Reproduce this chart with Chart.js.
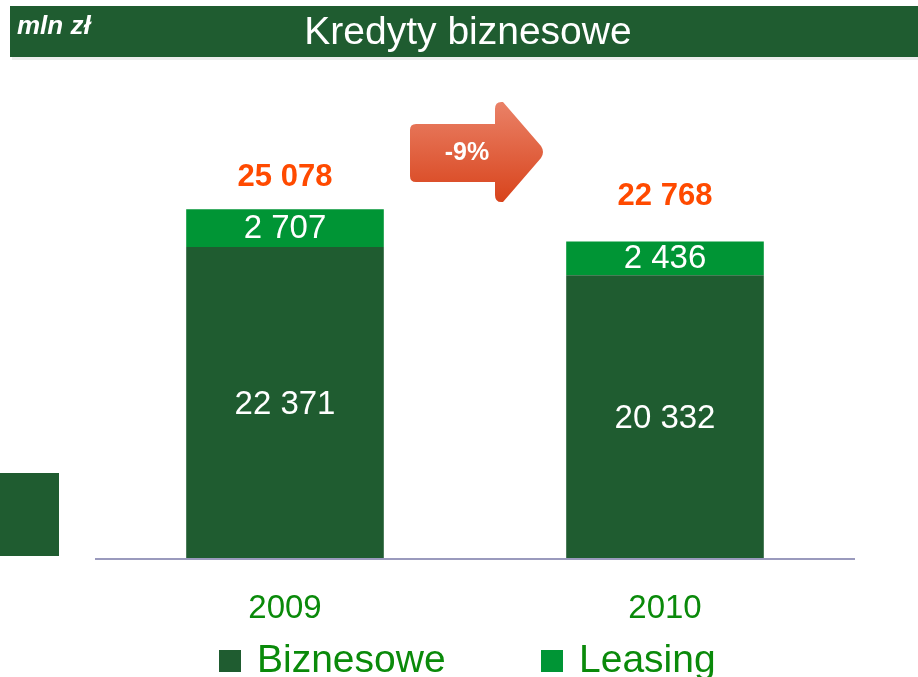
<!DOCTYPE html>
<html>
<head>
<meta charset="utf-8">
<script src="https://cdn.jsdelivr.net/npm/chart.js@4"></script>
<style>
  html,body{margin:0;padding:0;background:#fff;}
  #c{display:block;}
</style>
</head>
<body>
<canvas id="c" width="918" height="677"></canvas>
<script>
const categories = ['2009', '2010'];
const biznesowe = [22371, 20332];
const leasing = [2707, 2436];
const seriesNames = ['Biznesowe', 'Leasing'];
const titleText = 'Kredyty biznesowe';
const unitText = 'mln zł';

const DARK = '#1F5C30';
const LIGHT = '#009535';
const TXTGREEN = '#0A8A0A';
const ORANGE = '#FF4A00';
const FONT = '"Liberation Sans", Arial, sans-serif';

const totals = categories.map((_, i) => biznesowe[i] + leasing[i]);
const fmt = v => String(v).replace(/\B(?=(\d{3})+(?!\d))/g, ' ');
const changePct = Math.round((totals[1] / totals[0] - 1) * 100);

const decor = {
  id: 'decor',
  beforeDraw(chart) {
    const ctx = chart.ctx;
    ctx.save();
    ctx.fillStyle = '#fff';
    ctx.fillRect(0, 0, chart.width, chart.height);
    // title band with soft shadow
    ctx.fillStyle = 'rgba(0,0,0,0.07)';
    ctx.fillRect(12, 57, 906, 3);
    ctx.fillStyle = DARK;
    ctx.fillRect(10, 6, 908, 51);
    ctx.fillStyle = '#fff';
    ctx.textBaseline = 'middle';
    ctx.textAlign = 'left';
    ctx.font = 'italic bold 26px ' + FONT;
    ctx.fillText(unitText, 17, 27);
    ctx.textAlign = 'center';
    ctx.font = '39px ' + FONT;
    ctx.fillText(titleText, 468, 33);
    // left decorative block
    ctx.fillStyle = DARK;
    ctx.fillRect(0, 473, 59, 83);
    ctx.restore();
  },
  afterDraw(chart) {
    const ctx = chart.ctx;
    const xs = chart.scales.x, ys = chart.scales.y;
    const area = chart.chartArea;
    const totalOffsets = [32, 45];
    ctx.save();
    // axis line
    ctx.strokeStyle = '#9A9ABD';
    ctx.lineWidth = 2;
    ctx.beginPath();
    ctx.moveTo(area.left, ys.getPixelForValue(0));
    ctx.lineTo(area.right, ys.getPixelForValue(0));
    ctx.stroke();
    ctx.textAlign = 'center';
    ctx.textBaseline = 'middle';
    categories.forEach((cat, i) => {
      const x = xs.getPixelForValue(i);
      // tick labels
      ctx.fillStyle = TXTGREEN;
      ctx.font = '33px ' + FONT;
      ctx.fillText(cat, x, ys.getPixelForValue(0) + 50);
      // segment labels
      ctx.fillStyle = '#fff';
      ctx.font = '33px ' + FONT;
      const yb = (ys.getPixelForValue(0) + ys.getPixelForValue(biznesowe[i])) / 2;
      ctx.fillText(fmt(biznesowe[i]), x, yb + 2);
      const yl = (ys.getPixelForValue(biznesowe[i]) + ys.getPixelForValue(totals[i])) / 2;
      ctx.fillText(fmt(leasing[i]), x, yl + 1);
      // totals
      ctx.fillStyle = ORANGE;
      ctx.font = 'bold 31px ' + FONT;
      ctx.fillText(fmt(totals[i]), x, ys.getPixelForValue(totals[i]) - totalOffsets[i]);
    });
    // arrow
    const cx = (xs.getPixelForValue(0) + xs.getPixelForValue(1)) / 2;
    const L = cx - 65, B = cx + 20, T = cx + 70;
    const grad = ctx.createLinearGradient(0, 101, 0, 203);
    grad.addColorStop(0, '#EA8268');
    grad.addColorStop(1, '#D8431B');
    ctx.fillStyle = grad;
    ctx.beginPath();
    ctx.moveTo(L + 6, 124);
    ctx.lineTo(B, 124);
    ctx.lineTo(B, 109);
    ctx.quadraticCurveTo(B, 101, B + 8, 102);
    ctx.lineTo(T - 4, 146);
    ctx.quadraticCurveTo(T, 152, T - 4, 158);
    ctx.lineTo(B + 8, 202);
    ctx.quadraticCurveTo(B, 203, B, 195);
    ctx.lineTo(B, 182);
    ctx.lineTo(L + 6, 182);
    ctx.quadraticCurveTo(L, 182, L, 176);
    ctx.lineTo(L, 130);
    ctx.quadraticCurveTo(L, 124, L + 6, 124);
    ctx.closePath();
    ctx.fill();
    ctx.fillStyle = '#fff';
    ctx.font = 'bold 25px ' + FONT;
    ctx.fillText((changePct > 0 ? '+' : '') + changePct + '%', L + 57, 153);
    // legend
    const legendItems = [
      { name: seriesNames[0], color: DARK, x: 219 },
      { name: seriesNames[1], color: LIGHT, x: 541 }
    ];
    ctx.textAlign = 'left';
    ctx.font = '39px ' + FONT;
    legendItems.forEach(it => {
      ctx.fillStyle = it.color;
      ctx.fillRect(it.x, 650, 22, 22);
      ctx.fillStyle = TXTGREEN;
      ctx.fillText(it.name, it.x + 38, 661);
    });
    ctx.restore();
  }
};

new Chart(document.getElementById('c'), {
  type: 'bar',
  data: {
    labels: categories,
    datasets: [
      { label: seriesNames[0], data: biznesowe, backgroundColor: DARK, borderWidth: 0 },
      { label: seriesNames[1], data: leasing, backgroundColor: LIGHT, borderWidth: 0 }
    ]
  },
  options: {
    responsive: false,
    animation: false,
    devicePixelRatio: 1,
    layout: { padding: { left: 95, right: 63, top: 140.5, bottom: 118 } },
    datasets: { bar: { categoryPercentage: 1, barPercentage: 0.52 } },
    scales: {
      x: { display: false, stacked: true },
      y: { display: false, stacked: true, min: 0, max: 30000 }
    },
    plugins: { legend: { display: false }, tooltip: { enabled: false } }
  },
  plugins: [decor]
});
</script>
</body>
</html>
